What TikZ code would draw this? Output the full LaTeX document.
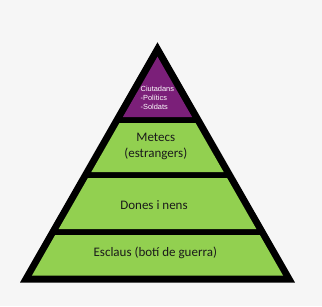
\documentclass[tikz,border=0pt]{standalone}
\usepackage{fontspec}
\setmainfont{Carlito}
\newfontfamily\smallfont{Liberation Sans}
\definecolor{bg}{HTML}{F6F6F6}
\definecolor{lgreen}{HTML}{92D050}
\definecolor{purp}{HTML}{7B1F79}
\definecolor{txt}{HTML}{1A1A1A}
\newcommand\pyrlayer[3]{%
  \fill[#3] ({157.5-(#1-56.7)*0.5737},#1) -- ({157.5+(#1-56.7)*0.5737},#1)
    -- ({157.5+(#2-56.7)*0.5737},#2) -- ({157.5-(#2-56.7)*0.5737},#2) -- cycle;}
\begin{document}
\begin{tikzpicture}[x=1pt,y=-1pt,
  lbl/.style={inner sep=0pt,text=txt,align=center,font=\fontsize{13}{16}\selectfont},
  smalllbl/.style={inner sep=0pt,text=white,align=left,anchor=west,font=\smallfont\fontsize{7.4}{9}\selectfont}]
\fill[bg] (0,0) rectangle (322,306);
\useasboundingbox (0,0) rectangle (322,306);
\fill[black] (157.5,42.3) -- (295,282.5) -- (20,282.5) -- cycle;
\pyrlayer{56.7}{117}{purp}
\pyrlayer{123}{172}{lgreen}
\pyrlayer{178}{229}{lgreen}
\pyrlayer{235}{275.5}{lgreen}
\node[smalllbl] (ciut) at (140.5,97.7) {Ciutadans\\-Polítics\\-Soldats};
\node[lbl] (met) at (155.8,146) {Metecs\\(estrangers)};
\node[lbl] (don) at (154,205) {Dones i nens};
\node[lbl] (esc) at (155.3,253.3) {Esclaus (botí de guerra)};
\end{tikzpicture}
\end{document}
